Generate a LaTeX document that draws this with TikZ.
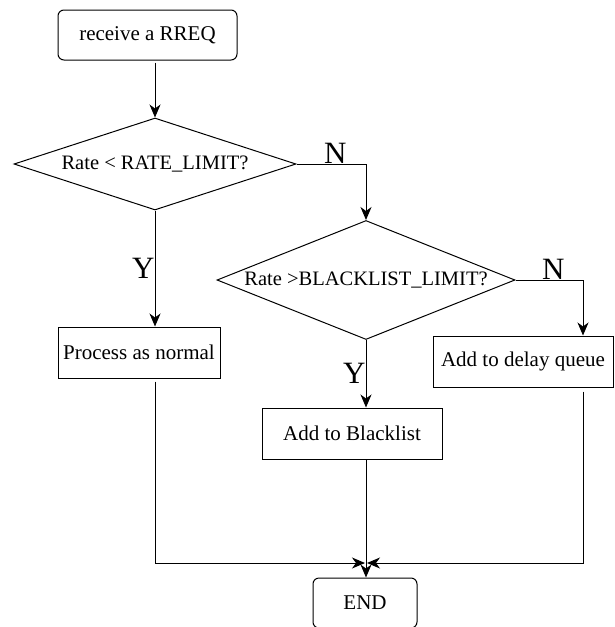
\documentclass[tikz,border=0pt]{standalone}
\usepackage{fontspec}
\setmainfont{Liberation Serif}
\usetikzlibrary{shapes.geometric, positioning, arrows.meta}

\begin{document}
\begin{tikzpicture}[x=1pt, y=-1pt, line width=1pt, >={Stealth[length=13pt, width=11pt, inset=4pt]}]
    \tikzset{
        box/.style={draw, rectangle, minimum width=180pt, minimum height=51pt, inner sep=0pt, font=\fontsize{21}{24}\selectfont},
        roundbox/.style={box, rounded corners=6pt},
        decision/.style={draw, diamond, inner sep=0pt, font=\fontsize{20.5}{24}\selectfont},
        answer/.style={font=\fontsize{31}{32}\selectfont, inner sep=0pt}
    }
    \useasboundingbox (0,0) rectangle (614,627);

    \node[roundbox, minimum width=179pt, minimum height=50pt] (rreq) at (147.5,35) {receive a RREQ};
    \node[decision, minimum width=282pt, minimum height=92pt, aspect=3.05] (lim) at (155,164) {Rate < RATE\_LIMIT?};
    \node[decision, minimum width=298pt, minimum height=119pt, aspect=2.5] (chk) at (366,280) {Rate >BLACKLIST\_LIMIT?};

    \node[box, minimum width=162pt] (proc) at (139,352.5) {Process as normal};
    \node[box] (black) at (352,433.5) {Add to Blacklist};
    \node[box] (delay) at (523,361.5) {Add to delay queue};
    \node[roundbox, minimum width=104pt, minimum height=50pt] (fin) at (365,603) {END};

    \coordinate (join) at (366,563);

    \draw[->, shorten <=2pt] (rreq.south -| lim.north) -- (lim.north);
    \draw[->] (lim.east) -| node[answer, above, pos=0.28] {N} (chk.north);
    \draw[->] (lim.south) -- node[answer, left] {Y} (lim.south |- proc.north);
    \draw[->] (chk.south) -- node[answer, left] {Y} (chk.south |- black.north);
    \draw[->] (chk.east) -| node[answer, above, pos=0.28] {N} ([xshift=60pt]delay.north);

    \draw[->, shorten <=3pt] (lim.south |- proc.south) |- ([xshift=-1pt]join);
    \draw[->, shorten <=4pt] ([xshift=60pt]delay.south) |- ([xshift=1pt]join);
    \draw[->] (chk.south |- black.south) -- (chk.south |- fin.north);

\end{tikzpicture}
\end{document}
